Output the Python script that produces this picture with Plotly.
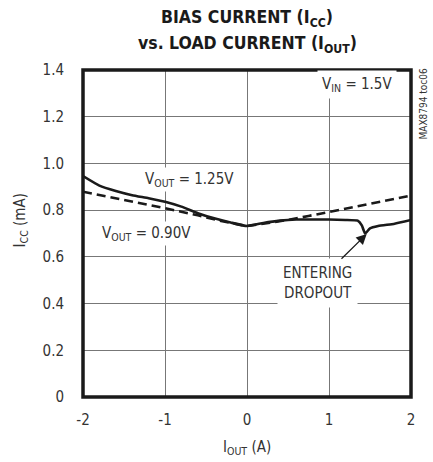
import plotly.graph_objects as go

# Data
x_125 = [-2.0, -1.8, -1.6, -1.4, -1.2, -1.0, -0.8, -0.6, -0.4, -0.2, 0.0, 0.2, 0.4, 0.6, 0.8, 1.0, 1.2, 1.35, 1.4, 1.44, 1.5, 1.6, 1.8, 2.0]
y_125 = [0.946, 0.905, 0.882, 0.864, 0.851, 0.836, 0.815, 0.787, 0.765, 0.747, 0.732, 0.745, 0.755, 0.760, 0.760, 0.760, 0.758, 0.755, 0.735, 0.700, 0.722, 0.732, 0.742, 0.758]

x_090 = [-2.0, -1.5, -1.0, -0.6, -0.3, 0.0, 0.25, 0.5, 0.75, 1.0, 1.25, 1.5, 1.75, 2.0]
y_090 = [0.879, 0.845, 0.808, 0.778, 0.752, 0.732, 0.745, 0.758, 0.775, 0.792, 0.808, 0.826, 0.843, 0.862]

x_ticks = [-2, -1, 0, 1, 2]
x_tick_labels = ["-2", "-1", "0", "1", "2"]
y_ticks = [0, 0.2, 0.4, 0.6, 0.8, 1.0, 1.2, 1.4]
y_tick_labels = ["0", "0.2", "0.4", "0.6", "0.8", "1.0", "1.2", "1.4"]

FONT = "DejaVu Sans Condensed, Liberation Sans Narrow, Arial Narrow, sans-serif"
TXT = "#333333"

fig = go.Figure()
fig.add_trace(go.Scatter(x=x_090, y=y_090, mode="lines",
                         line=dict(color="#1a1a1a", width=2.6, dash="9px,5px"),
                         name="VOUT = 0.90V"))
fig.add_trace(go.Scatter(x=x_125, y=y_125, mode="lines",
                         line=dict(color="#1a1a1a", width=2.6, shape="spline", smoothing=0.4),
                         name="VOUT = 1.25V"))

fig.update_layout(
    width=433, height=462,
    margin=dict(l=83, r=22, t=70, b=65),
    paper_bgcolor="white", plot_bgcolor="white",
    showlegend=False,
    font=dict(family=FONT, size=15, color=TXT),
    xaxis=dict(range=[-2, 2], tickvals=x_ticks, ticktext=x_tick_labels,
               showgrid=True, gridcolor="#777777", gridwidth=1, zeroline=False,
               showline=False, ticks="", ticklabelstandoff=12,
               tickfont=dict(family=FONT, size=15, color=TXT)),
    yaxis=dict(range=[0, 1.4], tickvals=y_ticks, ticktext=y_tick_labels,
               showgrid=True, gridcolor="#777777", gridwidth=1, zeroline=False,
               showline=False, ticks="", ticklabelstandoff=18,
               tickfont=dict(family=FONT, size=15, color=TXT)),
)

fig.add_shape(type="rect", xref="paper", yref="paper", x0=0, y0=0, x1=1, y1=1,
              line=dict(color="#1a1a1a", width=3.5), layer="above")

ann = []
# Title
ann.append(dict(text="<b>BIAS CURRENT (I<sub>CC</sub>)</b>", xref="paper", yref="paper",
                x=0.5, y=1.159, xanchor="center", yanchor="middle", showarrow=False,
                font=dict(family=FONT, size=17.5, color="#1a1a1a")))
ann.append(dict(text="<b>vs. LOAD CURRENT (I<sub>OUT</sub>)</b>", xref="paper", yref="paper",
                x=0.5, y=1.0795, xanchor="center", yanchor="middle", showarrow=False,
                font=dict(family=FONT, size=17.5, color="#1a1a1a")))
# Axis titles
ann.append(dict(text="I<sub>OUT</sub> (A)", xref="paper", yref="paper", x=0.5, y=-0.153,
                xanchor="center", yanchor="middle", showarrow=False,
                font=dict(family=FONT, size=15, color=TXT)))
ann.append(dict(text="I<sub>CC</sub> (mA)", xref="paper", yref="paper", x=-0.192, y=0.54,
                xanchor="center", yanchor="middle", textangle=-90, showarrow=False,
                font=dict(family=FONT, size=15, color=TXT)))
# Side id
ann.append(dict(text="MAX8794 toc06", xref="paper", yref="paper", x=1.0366, y=0.8976,
                xanchor="center", yanchor="middle", textangle=-90, showarrow=False,
                font=dict(family=FONT, size=10, color=TXT)))
# Labels
ann.append(dict(text="V<sub>IN</sub> = 1.5V", x=1.34, y=1.336, showarrow=False,
                xanchor="center", yanchor="middle",
                bgcolor="white", borderpad=4, font=dict(family=FONT, size=15, color=TXT)))
ann.append(dict(text="V<sub>OUT</sub> = 1.25V", x=-0.7, y=0.93, showarrow=False,
                xanchor="center", yanchor="middle",
                bgcolor="white", borderpad=2, font=dict(family=FONT, size=15, color=TXT)))
ann.append(dict(text="V<sub>OUT</sub> = 0.90V", x=-1.23, y=0.70, showarrow=False,
                xanchor="center", yanchor="middle",
                bgcolor="white", borderpad=2, font=dict(family=FONT, size=15, color=TXT)))
ann.append(dict(text="ENTERING<br>DROPOUT", x=0.854, y=0.488, showarrow=False,
                xanchor="center", yanchor="middle",
                bgcolor="white", borderpad=5, font=dict(family=FONT, size=15, color=TXT)))
# Arrow
ann.append(dict(text="", x=1.46, y=0.698, ax=1.134, ay=0.586, axref="x", ayref="y",
                showarrow=True, arrowhead=2, arrowsize=1.6, arrowwidth=1.3, arrowcolor="#1a1a1a"))
fig.update_layout(annotations=ann)

fig.write_html("out.html", config={"displayModeBar": False},
               post_script="document.body.style.margin='0';")
